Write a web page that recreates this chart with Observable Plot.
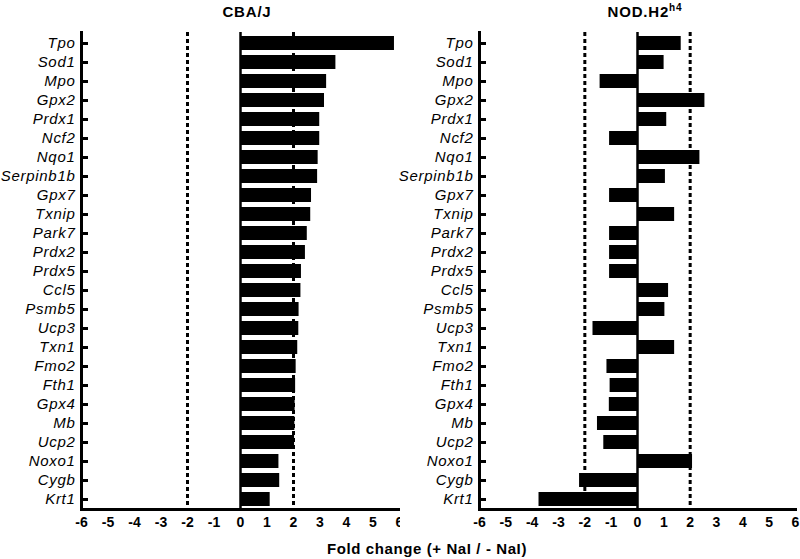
<!DOCTYPE html>
<html>
<head>
<meta charset="utf-8">
<script src="https://cdn.jsdelivr.net/npm/d3@7"></script>
<script src="https://cdn.jsdelivr.net/npm/@observablehq/plot@0.6"></script>
<style>
  html, body { margin: 0; padding: 0; background: #fff; }
  #wrap { position: relative; width: 800px; height: 559px; font-family: "Liberation Sans", Arial, sans-serif; }
  .panel { position: absolute; top: 0; }
  .panel svg { overflow: visible; }
  .title { position: absolute; top: 3px; font-weight: bold; font-size: 15px; letter-spacing: 0.8px; transform: translateX(-50%); white-space: nowrap; }
  .title sup { font-size: 10px; vertical-align: 6px; line-height: 0; }
  #xlabel { position: absolute; top: 540px; left: 427px; transform: translateX(-50%); font-weight: bold; font-size: 15px; letter-spacing: 0.6px; white-space: nowrap; }
</style>
</head>
<body>
<div id="wrap">
  <div class="panel" id="left" style="left:0px"></div>
  <div class="panel" id="right" style="left:400px"></div>
  <div class="title" style="left:247px">CBA/J</div>
  <div class="title" style="left:645px">NOD.H2<sup>h4</sup></div>
  <div id="xlabel">Fold change (+ NaI / - NaI)</div>
</div>
<script>
const genes = ["Tpo","Sod1","Mpo","Gpx2","Prdx1","Ncf2","Nqo1","Serpinb1b","Gpx7","Txnip","Park7","Prdx2","Prdx5","Ccl5","Psmb5","Ucp3","Txn1","Fmo2","Fth1","Gpx4","Mb","Ucp2","Noxo1","Cygb","Krt1"];
const cbaj = [5.81,3.6,3.25,3.17,2.99,2.99,2.93,2.91,2.68,2.65,2.52,2.45,2.30,2.28,2.21,2.20,2.16,2.10,2.08,2.06,2.05,2.04,1.45,1.48,1.12];
const nod = [1.66,1.01,-1.42,2.56,1.11,-1.06,2.37,1.06,-1.06,1.41,-1.06,-1.06,-1.06,1.18,1.04,-1.69,1.41,-1.16,-1.04,-1.07,-1.52,-1.28,2.09,-2.2,-3.74];
const xTicks = [-6,-5,-4,-3,-2,-1,0,1,2,3,4,5,6];
const thresholds = [-2, 2];

function panel(values, marginLeft, marginRight) {
  const data = genes.map((g, i) => ({gene: g, value: values[i]}));
  return Plot.plot({
    width: 400,
    height: 530,
    marginLeft,
    marginRight,
    marginTop: 32,
    marginBottom: 21,
    style: {fontFamily: "Liberation Sans, Arial, sans-serif", color: "black", background: "white", overflow: "visible"},
    x: {domain: [-6, 6], label: null},
    y: {domain: genes, paddingInner: 0.27, paddingOuter: 0.16, label: null},
    marks: [
      Plot.barX(data, {x: "value", y: "gene", fill: "black"}),
      Plot.ruleX(thresholds, {stroke: "black", strokeWidth: 3, strokeDasharray: "4,3"}),
      Plot.ruleX([0], {stroke: "black", strokeWidth: 2.5}),
      Plot.frame({anchor: "left", stroke: "black", strokeWidth: 3}),
      Plot.frame({anchor: "bottom", stroke: "black", strokeWidth: 3}),
      Plot.axisY({tickSize: 7, dx: 7, stroke: "black", strokeWidth: 3, tickFormat: () => ""}),
      Plot.axisY({tickSize: 0, tickPadding: 6}),
      Plot.axisX({ticks: xTicks, tickFormat: d => String(d), tickSize: 0, tickPadding: 8, fontSize: 14, fontWeight: "bold", fill: "black"})
    ]
  });
}

const L = panel(cbaj, 81, 1);
const R = panel(nod, 79, 5);
for (const svg of [L, R]) {
  svg.querySelectorAll('g[aria-label="y-axis tick label"]').forEach(g => {
    if (g.textContent.trim() === "") return;
    g.style.fontSize = "15px";
    g.style.fontStyle = "italic";
    g.style.letterSpacing = "0.7px";
    g.setAttribute("fill", "black");
  });
}
document.getElementById("left").append(L);
document.getElementById("right").append(R);
</script>
</body>
</html>
